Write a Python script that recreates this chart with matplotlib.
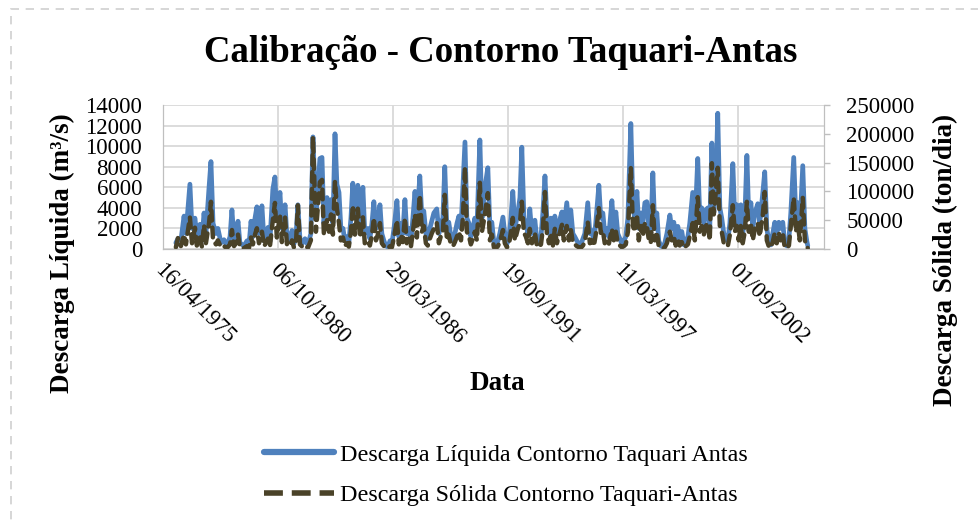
import datetime as dt
import numpy as np
import matplotlib
matplotlib.use("Agg")
import matplotlib.pyplot as plt
import matplotlib.dates as mdates
import matplotlib.transforms as mtransforms
from matplotlib.lines import Line2D

plt.rcParams['font.family'] = ['Liberation Serif', 'DejaVu Serif']

# sample dates (decimal years)
t = [1975.90, 1976.00, 1976.14, 1976.29, 1976.38, 1976.57, 1976.67, 1976.81, 1976.90,
     1977.05, 1977.14, 1977.24, 1977.33, 1977.48, 1977.57, 1977.67, 1977.81, 1977.90,
     1978.05, 1978.19, 1978.33, 1978.48, 1978.57, 1978.67, 1978.76, 1978.86, 1978.95,
     1979.14, 1979.29, 1979.38, 1979.48, 1979.57, 1979.67, 1979.76, 1979.86,
     1980.00, 1980.10, 1980.19, 1980.29, 1980.38, 1980.52, 1980.62, 1980.71, 1980.86, 1980.95,
     1981.10, 1981.19, 1981.33, 1981.43, 1981.52, 1981.62, 1981.71, 1981.81, 1981.95,
     1982.05, 1982.19, 1982.33, 1982.43, 1982.57, 1982.76, 1982.86, 1982.95,
     1983.10, 1983.19, 1983.29, 1983.38, 1983.48, 1983.57, 1983.67, 1983.76, 1983.86, 1983.95,
     1984.05, 1984.14, 1984.24, 1984.33, 1984.43, 1984.57, 1984.67, 1984.81, 1984.90,
     1985.05, 1985.14, 1985.24, 1985.33, 1985.43, 1985.52, 1985.62, 1985.71, 1985.81, 1985.90,
     1986.00, 1986.10, 1986.19, 1986.29, 1986.43, 1986.52, 1986.62, 1986.71, 1986.81, 1986.90,
     1987.00, 1987.10, 1987.19, 1987.29, 1987.38, 1987.52, 1987.62, 1987.71, 1987.81, 1987.90,
     1988.00, 1988.10, 1988.19, 1988.33, 1988.43, 1988.52, 1988.62, 1988.71, 1988.81, 1988.90,
     1989.00, 1989.10, 1989.19, 1989.29, 1989.38, 1989.48, 1989.57, 1989.67, 1989.76, 1989.86, 1989.95,
     1990.05, 1990.14, 1990.24, 1990.38, 1990.48, 1990.62, 1990.76, 1990.86, 1990.95,
     1991.05, 1991.14, 1991.24, 1991.33, 1991.48, 1991.57, 1991.67, 1991.76, 1991.86, 1991.95,
     1992.05, 1992.19, 1992.29, 1992.38, 1992.48, 1992.57, 1992.67, 1992.76, 1992.86,
     1993.00, 1993.10, 1993.19, 1993.29, 1993.38, 1993.48, 1993.57, 1993.67, 1993.76, 1993.86, 1993.95,
     1994.05, 1994.14, 1994.29, 1994.38, 1994.52, 1994.62, 1994.71, 1994.81, 1994.90,
     1995.00, 1995.10, 1995.19, 1995.29, 1995.38, 1995.52, 1995.62, 1995.71, 1995.81, 1995.90,
     1996.05, 1996.14, 1996.24, 1996.33, 1996.43, 1996.52, 1996.67, 1996.76, 1996.86, 1996.95,
     1997.05, 1997.14, 1997.24, 1997.33, 1997.43, 1997.57, 1997.67, 1997.76, 1997.86, 1997.95,
     1998.05, 1998.14, 1998.24, 1998.33, 1998.43, 1998.52, 1998.62, 1998.71, 1998.81, 1998.90,
     1999.00, 1999.10, 1999.19, 1999.29, 1999.43, 1999.52, 1999.62, 1999.71, 1999.81, 1999.90,
     2000.00, 2000.10, 2000.19, 2000.29, 2000.38, 2000.52, 2000.62, 2000.76, 2000.86, 2000.95,
     2001.05, 2001.14, 2001.24, 2001.33, 2001.43, 2001.52, 2001.62, 2001.71, 2001.81, 2001.90,
     2002.00, 2002.10, 2002.19, 2002.29, 2002.43, 2002.52, 2002.62, 2002.71, 2002.81, 2002.90,
     2003.00, 2003.10, 2003.19, 2003.29, 2003.38, 2003.48, 2003.62, 2003.71, 2003.86, 2003.95,
     2004.05, 2004.14, 2004.24, 2004.33, 2004.43, 2004.52, 2004.62, 2004.71, 2004.81, 2004.90,
     2005.00, 2005.10, 2005.19, 2005.33, 2005.43, 2005.52, 2005.62, 2005.76, 2005.86, 2005.95,
     2006.00]

# Descarga liquida (m3/s)
liq = [600, 1000, 800, 3200, 1500, 6300, 2000, 3000, 1200,
       2400, 800, 3500, 1500, 6000, 8500, 2500, 1500, 2000,
       600, 900, 300, 1200, 3800, 900, 1500, 2700, 600,
       300, 800, 300, 2700, 1200, 3000, 4100, 1500,
       4200, 800, 1500, 2100, 700, 5800, 7000, 3000, 5500, 2000,
       4300, 1200, 800, 1800, 500, 1200, 4300, 1000, 600,
       1000, 400, 1500, 10900, 3000, 8800, 8900, 2500,
       5000, 3000, 4800, 2500, 11200, 6300, 5500, 2000, 2000, 800,
       1200, 600, 3000, 6400, 3000, 6200, 2500, 6000, 1500,
       2000, 1000, 2500, 4600, 2000, 2600, 4300, 1500, 800, 300,
       200, 800, 500, 2000, 4700, 1200, 2500, 1500, 4800, 1500,
       2000, 800, 3000, 5600, 2500, 7100, 3000, 3700, 1500, 1000,
       2000, 2800, 3500, 3900, 1500, 2500, 3000, 8000, 2000, 2600,
       1200, 800, 1500, 2500, 3200, 2000, 6000, 10400, 3000, 2500, 1200,
       2000, 3000, 2000, 10600, 3000, 6000, 7900, 2000, 2600,
       600, 200, 800, 1500, 3100, 1500, 500, 1000, 3000, 5600,
       2000, 3500, 5000, 9900, 3000, 2500, 1500, 3900, 1500,
       2800, 800, 500, 1200, 3500, 7100, 3000, 1500, 3000, 1000, 3200,
       1500, 2500, 3600, 2000, 4500, 2000, 3800, 1500, 1200,
       800, 500, 400, 1000, 1500, 4500, 1500, 1800, 800, 2500,
       6200, 3000, 3500, 1500, 2000, 1200, 4700, 2000, 3600, 1500,
       1000, 500, 800, 1200, 3000, 12200, 4000, 3000, 5600, 2000,
       3500, 2500, 4500, 4600, 2000, 1500, 7400, 2000, 3500, 800,
       300, 200, 600, 1500, 3300, 2000, 2600, 1000, 2200, 1000,
       1700, 400, 800, 1200, 2500, 5500, 2000, 8800, 3000, 4000,
       2500, 3800, 4000, 2000, 10300, 3500, 6000, 13200, 4000, 3000,
       1500, 1000, 800, 2500, 8300, 3000, 4300, 2000, 4300, 1500,
       3000, 9100, 3000, 4500, 2000, 3500, 4400, 2500, 5500, 7500,
       2000, 800, 400, 1500, 2600, 1500, 2600, 2000, 2600, 600,
       300, 1000, 3500, 8900, 3000, 4500, 2000, 8100, 2000, 800,
       300]

# Descarga solida (ton/dia)
sol = [3000, 19000, 5000, 25000, 8000, 55000, 10000, 37000, 6000,
       20000, 4000, 42000, 10000, 45000, 82000, 15000, 8000, 15000,
       3000, 5000, 1500, 8000, 33000, 5000, 10000, 25000, 3000,
       1500, 5000, 1500, 20000, 8000, 25000, 36000, 10000,
       30000, 5000, 10000, 18000, 4000, 50000, 80000, 20000, 59000, 12000,
       55000, 8000, 5000, 15000, 3000, 10000, 76000, 8000, 3000,
       6000, 2000, 15000, 195000, 30000, 116000, 120000, 25000,
       50000, 30000, 60000, 25000, 118000, 70000, 45000, 15000, 20000, 5000,
       10000, 4000, 30000, 76000, 25000, 70000, 20000, 55000, 10000,
       15000, 6000, 25000, 54000, 15000, 25000, 45000, 10000, 5000, 1500,
       1000, 5000, 3000, 20000, 50000, 8000, 25000, 12000, 54000, 10000,
       18000, 5000, 30000, 60000, 20000, 94000, 30000, 40000, 10000, 6000,
       18000, 28000, 35000, 45000, 10000, 22000, 30000, 94000, 15000, 25000,
       8000, 5000, 12000, 22000, 30000, 15000, 54000, 142000, 30000, 22000, 8000,
       18000, 30000, 15000, 115000, 30000, 60000, 97000, 15000, 25000,
       3000, 1000, 5000, 12000, 33000, 10000, 3000, 6000, 30000, 54000,
       15000, 35000, 45000, 82000, 28000, 22000, 10000, 35000, 10000,
       28000, 5000, 3000, 8000, 35000, 99000, 28000, 10000, 28000, 6000, 35000,
       10000, 22000, 42000, 15000, 40000, 15000, 35000, 10000, 8000,
       5000, 3000, 2000, 6000, 12000, 47000, 10000, 15000, 5000, 25000,
       71000, 28000, 32000, 10000, 15000, 8000, 35000, 15000, 30000, 10000,
       6000, 3000, 5000, 8000, 30000, 141000, 40000, 30000, 60000, 15000,
       40000, 22000, 45000, 42000, 15000, 10000, 76000, 15000, 30000, 5000,
       1500, 1000, 3000, 10000, 30000, 15000, 22000, 6000, 18000, 6000,
       12000, 2000, 5000, 8000, 22000, 45000, 15000, 90000, 30000, 40000,
       25000, 40000, 45000, 15000, 149000, 60000, 100000, 141000, 40000, 30000,
       10000, 6000, 5000, 25000, 76000, 30000, 40000, 15000, 40000, 10000,
       30000, 82000, 30000, 45000, 15000, 35000, 45000, 22000, 60000, 99000,
       15000, 5000, 2000, 12000, 28000, 10000, 28000, 15000, 28000, 3000,
       1500, 6000, 40000, 89000, 30000, 45000, 15000, 89000, 15000, 5000,
       1500]

tick_labels = ['16/04/1975', '06/10/1980', '29/03/1986', '19/09/1991', '11/03/1997', '01/09/2002']


def year_to_num(y):
    base = dt.datetime(int(y), 1, 1)
    return mdates.date2num(base) + (y - int(y)) * 365.25


x = np.array([year_to_num(v) for v in t])
tick_pos = [mdates.date2num(dt.datetime.strptime(s, '%d/%m/%Y')) for s in tick_labels]

blue = '#4f81bd'
dark = '#4a4228'
grid = '#d9d9d9'

fig = plt.figure(figsize=(9.79, 5.25), dpi=100)
ax = fig.add_axes([163 / 979, 1 - 249 / 525, 661 / 979, 144 / 525])
ax2 = ax.twinx()

ax.plot(x, liq, color=blue, lw=3.4, solid_capstyle='round', solid_joinstyle='round')
ax2.plot(x, sol, color=dark, lw=3.2, linestyle=(0, (2.2, 1.6)), dash_capstyle='round')

ax.set_ylim(0, 14000)
ax.set_yticks(np.arange(0, 14001, 2000))
ax2.set_ylim(0, 250000)
ax2.set_yticks(np.arange(0, 250001, 50000))
ax.set_xlim(tick_pos[0], tick_pos[0] + 11500)
ax.set_xticks(tick_pos)
ax.set_xticklabels(tick_labels)

ax.grid(True, color=grid, lw=1.3)
ax.set_axisbelow(True)
for a in (ax, ax2):
    for s in a.spines.values():
        s.set_color('#bfbfbf')
    a.spines['top'].set_visible(False)
ax.tick_params(axis='y', length=0, pad=15, labelsize=16.5)
ax.tick_params(axis='x', length=0, pad=8, labelsize=16.5)
ax2.tick_params(axis='y', length=4, width=1, color='#bfbfbf', pad=12, labelsize=16.5)

shift = mtransforms.ScaledTranslation(2 / 100, 0, fig.dpi_scale_trans)
for lab in ax.get_xticklabels():
    lab.set_rotation(-45)
    lab.set_ha('left')
    lab.set_va('top')
    lab.set_rotation_mode('anchor')
    lab.set_transform(lab.get_transform() + shift)

fig.text(501 / 979, 1 - 52 / 525, 'Calibração - Contorno Taquari-Antas', ha='center', va='center',
         fontsize=26.5, fontweight='bold')
fig.text(62 / 979, 1 - 253 / 525, 'Descarga Líquida (m³/s)', rotation=90, ha='center', va='center',
         fontsize=19.5, fontweight='bold')
fig.text(945 / 979, 1 - 260 / 525, 'Descarga Sólida (ton/dia)', rotation=90, ha='center', va='center',
         fontsize=19.5, fontweight='bold')
fig.text(497 / 979, 1 - 383 / 525, 'Data', ha='center', va='center', fontsize=19.5, fontweight='bold')

handles = [Line2D([], [], color=blue, lw=4.5, solid_capstyle='round'),
           Line2D([], [], color=dark, lw=4, linestyle=(0, (3.4, 1.6)))]
names = ['Descarga Líquida Contorno Taquari Antas', 'Descarga Sólida Contorno Taquari-Antas']
fig.legend(handles, names, loc='upper left', bbox_to_anchor=(242 / 979, 1 - 422 / 525), frameon=False,
           fontsize=17.4, handlelength=2.9, handletextpad=0.25, labelspacing=0.78)

border = plt.Rectangle((11 / 979, -0.1), 1.1, 1 - 9 / 525 + 0.1, transform=fig.transFigure,
                       fill=False, ec='#cfcfcf', lw=1.2, ls=(0, (5, 4)), clip_on=False)
fig.patches.append(border)

fig.savefig('out.png', dpi=100)
